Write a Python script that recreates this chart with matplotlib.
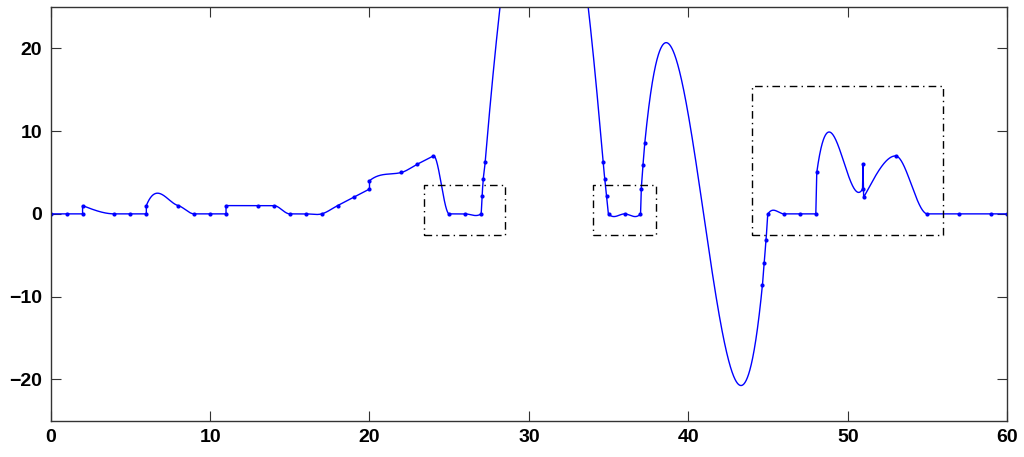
import numpy as np
import matplotlib
matplotlib.use("Agg")
import matplotlib.pyplot as plt

# sample points, one list per continuous piece (pieces are joined by straight jumps)
pieces_x = [
    [0, 1, 2],
    [2, 4, 5, 6],
    [6, 8, 9, 10, 11],
    [11, 13, 14, 15, 16, 17, 18, 19, 20],
    [20, 22, 23, 24, 25, 26, 27, 27.06, 27.14, 27.26, 34.65, 34.76, 34.87, 35, 36, 37,
     37.05, 37.16, 37.27, 44.65, 44.76, 44.88, 45, 46, 47, 48],
    [48.06, 50.93],
    [50.96],
    [51, 53, 55, 57, 59, 60],
]
pieces_y = [
    [0, 0, 0],
    [1, 0, 0, 0],
    [1, 1, 0, 0, 0],
    [1, 1, 1, 0, 0, 0, 1, 2, 3],
    [4, 5, 6, 7, 0, 0, 0, 2.15, 4.25, 6.3, 6.3, 4.25, 2.15, 0, 0, 0,
     3.05, 5.95, 8.55, -8.6, -5.9, -3.1, 0, 0, 0, 0],
    [5, 3],
    [6],
    [2, 7, 0, 0, 0, 0],
]

# curve slopes read off the picture where they differ from the Akima estimate
# key: (piece, point index)
slopes_read = {
    (2, 0): 4.8,
    (4, 0): 1.6, (4, 1): 0.5, (4, 6): 1.35, (4, 9): 23.0, (4, 10): -23.0,
    (4, 13): -2.2, (4, 15): 2.2, (4, 18): 19.5, (4, 19): 19.5, (4, 22): 3.0,
    (5, 0): 14.0, (5, 1): 3.5,
    (7, 0): 3.5, (7, 1): 0.0,
}

# dash-dot boxes: (x0, x1, y0, y1)
boxes = [(23.4, 28.5, -2.5, 3.5), (34.0, 38.0, -2.5, 3.5), (44.0, 56.0, -2.5, 15.5)]


def akima_slopes(x, y):
    x = np.asarray(x, float)
    y = np.asarray(y, float)
    if len(x) == 1:
        return np.zeros(1)
    d = np.diff(y) / np.diff(x)
    if len(x) == 2:
        return np.array([d[0], d[0]])
    dd = np.concatenate([[3*d[0] - 2*d[1], 2*d[0] - d[1]], d,
                         [2*d[-1] - d[-2], 3*d[-1] - 2*d[-2]]])
    s = np.zeros(len(x))
    for i in range(len(x)):
        m1, m2, m3, m4 = dd[i:i + 4]
        w1, w2 = abs(m4 - m3), abs(m2 - m1)
        s[i] = (m2 + m3) / 2 if w1 + w2 == 0 else (w1*m2 + w2*m3) / (w1 + w2)
    return s


def hermite(x, y, s):
    if len(x) == 1:
        return np.array(x, float), np.array(y, float)
    xs, ys = [], []
    for i in range(len(x) - 1):
        h = x[i + 1] - x[i]
        u = np.linspace(0, 1, max(20, int(h * 80)))
        p = ((2*u**3 - 3*u**2 + 1)*y[i] + (u**3 - 2*u**2 + u)*h*s[i]
             + (-2*u**3 + 3*u**2)*y[i + 1] + (u**3 - u**2)*h*s[i + 1])
        xs.append(x[i] + u*h)
        ys.append(p)
    return np.concatenate(xs), np.concatenate(ys)


curve_x, curve_y = [], []
for k, (px, py) in enumerate(zip(pieces_x, pieces_y)):
    s = akima_slopes(px, py)
    for (pk, i), v in slopes_read.items():
        if pk == k:
            s[i] = v
    cx, cy = hermite(px, py, s)
    curve_x.append(cx)
    curve_y.append(cy)
curve_x = np.concatenate(curve_x)
curve_y = np.concatenate(curve_y)

plt.rcParams['font.family'] = ['Liberation Sans', 'DejaVu Sans']
fig = plt.figure(figsize=(10.24, 4.57), dpi=100)
ax = fig.add_axes([0.0495, 0.079, 0.934, 0.906])

ax.plot(curve_x, curve_y, color='blue', lw=1.0)
ax.plot(np.concatenate(pieces_x), np.concatenate(pieces_y), 'o', color='blue',
        ms=3, mec='none')

for x0, x1, y0, y1 in boxes:
    ax.plot([x0, x1, x1, x0, x0], [y0, y0, y1, y1, y0], color='black', lw=1.0,
            linestyle=(0, (5.5, 3, 1, 3)))

ax.set_xlim(0, 60)
ax.set_ylim(-25, 25)
ax.set_xticks(np.arange(0, 61, 10))
ax.set_yticks([-20, -10, 0, 10, 20])
ax.tick_params(direction='in', top=True, right=True, length=7, width=0.8,
               labelsize=14, pad=6, color='#333333')
for lab in ax.get_xticklabels() + ax.get_yticklabels():
    lab.set_fontweight('bold')
for sp in ax.spines.values():
    sp.set_color('#333333')
    sp.set_linewidth(1.0)

fig.savefig("out.png", dpi=100)
